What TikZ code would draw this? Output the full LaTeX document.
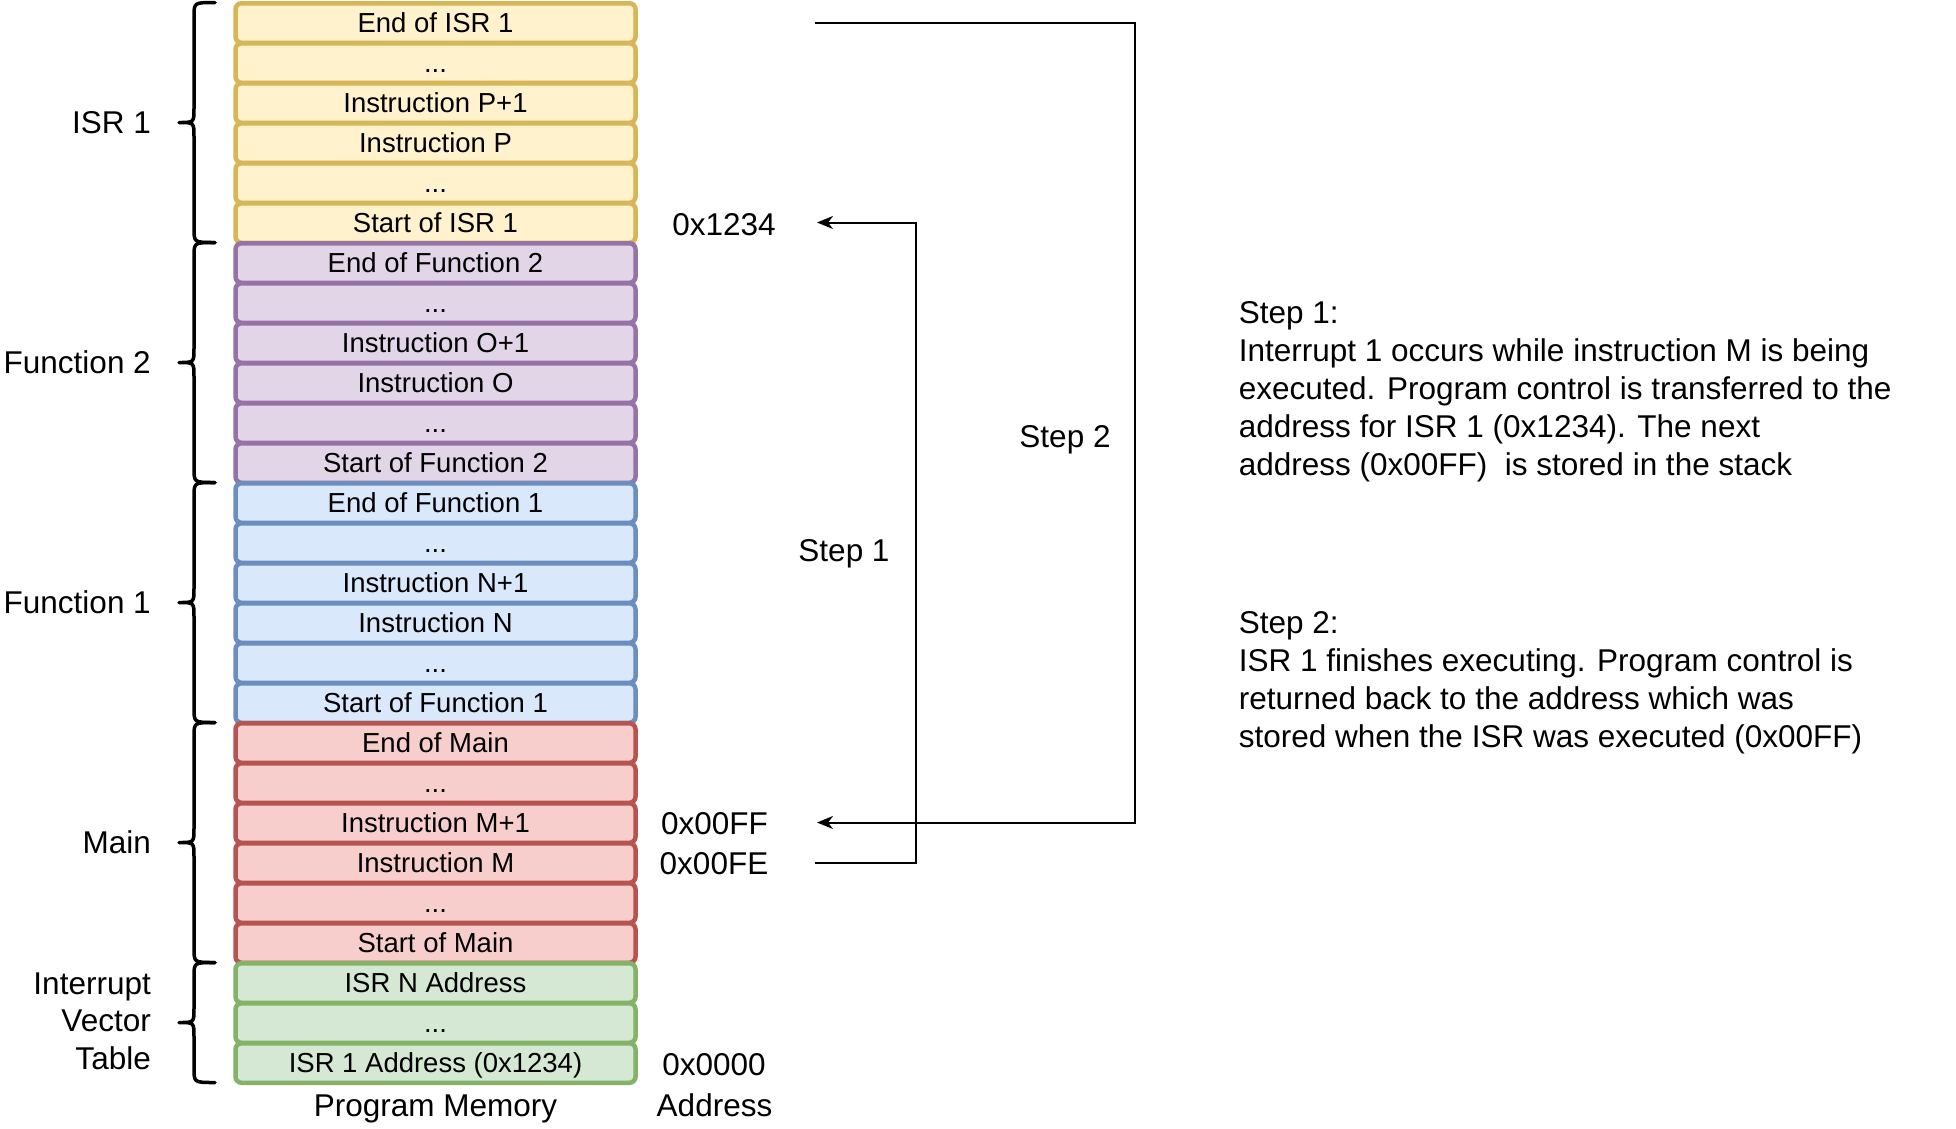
\documentclass[tikz,border=0pt]{standalone}
\usepackage{fontspec}
\setmainfont{Liberation Sans}
\usetikzlibrary{arrows.meta}
\definecolor{yfill}{HTML}{FFF2CC}\definecolor{ydraw}{HTML}{D6B656}
\definecolor{pfill}{HTML}{E1D5E7}\definecolor{pdraw}{HTML}{9673A6}
\definecolor{bfill}{HTML}{DAE8FC}\definecolor{bdraw}{HTML}{6C8EBF}
\definecolor{rfill}{HTML}{F8CECC}\definecolor{rdraw}{HTML}{B85450}
\definecolor{gfill}{HTML}{D5E8D4}\definecolor{gdraw}{HTML}{82B366}
\begin{document}
\begin{tikzpicture}[x=1pt,y=-1pt,
  cell/.style={rectangle, rounded corners=6pt, line width=4.5pt, minimum width=400pt, minimum height=39.5pt,
    inner sep=0pt, font=\fontsize{27.5}{33}\selectfont, text height=19.7pt, text depth=0pt},
  ycell/.style={cell, fill=yfill, draw=ydraw},
  pcell/.style={cell, fill=pfill, draw=pdraw},
  bcell/.style={cell, fill=bfill, draw=bdraw},
  rcell/.style={cell, fill=rfill, draw=rdraw},
  gcell/.style={cell, fill=gfill, draw=gdraw},
  lbl/.style={inner sep=0pt, font=\fontsize{31.5}{37.5}\selectfont, text height=22.6pt, text depth=0pt},
  grp/.style={inner sep=0pt, anchor=east, align=right, font=\fontsize{31.5}{37.5}\selectfont},
  note/.style={inner sep=0pt, anchor=north west, align=left, font=\fontsize{31.5}{38}\selectfont},
  bracestyle/.style={line width=3.5pt, line cap=round, line join=round},
  conn/.style={line width=2pt, -{Stealth[length=16pt,width=13pt,inset=5pt]}},
  plain/.style={line width=2pt}
]
\useasboundingbox[fill=white] (0,0) rectangle (1956,1128);

% memory cells
\node[ycell] (r0)  at (435.5,23)  {End of ISR 1};
\node[ycell] (r1)  at (435.5,63)  {...};
\node[ycell] (r2)  at (435.5,103) {Instruction P+1};
\node[ycell] (r3)  at (435.5,143) {Instruction P};
\node[ycell] (r4)  at (435.5,183) {...};
\node[ycell] (r5)  at (435.5,223) {Start of ISR 1};
\node[pcell] (r6)  at (435.5,263) {End of Function 2};
\node[pcell] (r7)  at (435.5,303) {...};
\node[pcell] (r8)  at (435.5,343) {Instruction O+1};
\node[pcell] (r9)  at (435.5,383) {Instruction O};
\node[pcell] (r10) at (435.5,423) {...};
\node[pcell] (r11) at (435.5,463) {Start of Function 2};
\node[bcell] (r12) at (435.5,503) {End of Function 1};
\node[bcell] (r13) at (435.5,543) {...};
\node[bcell] (r14) at (435.5,583) {Instruction N+1};
\node[bcell] (r15) at (435.5,623) {Instruction N};
\node[bcell] (r16) at (435.5,663) {...};
\node[bcell] (r17) at (435.5,703) {Start of Function 1};
\node[rcell] (r18) at (435.5,743) {End of Main};
\node[rcell] (r19) at (435.5,783) {...};
\node[rcell] (r20) at (435.5,823) {Instruction M+1};
\node[rcell] (r21) at (435.5,863) {Instruction M};
\node[rcell] (r22) at (435.5,903) {...};
\node[rcell] (r23) at (435.5,943) {Start of Main};
\node[gcell] (r24) at (435.5,983) {ISR N Address};
\node[gcell] (r25) at (435.5,1023) {...};
\node[gcell] (r26) at (435.5,1063) {ISR 1 Address (0x1234)};

% braces
\foreach \t/\b in {2.5/242.5, 242.5/482.5, 482.5/722.5, 722.5/962.5, 962.5/1082.5} {
  \pgfmathsetmacro\m{(\t+\b)/2}
  \draw[bracestyle] (215,\t) .. controls (194,\t) .. (194,{\t+14}) -- (194,{\m-14})
     .. controls (194,\m) .. (179,\m) .. controls (194,\m) .. (194,{\m+14})
     -- (194,{\b-14}) .. controls (194,\b) .. (215,\b);
}

% group labels
\node[grp] (gisr) at (151,122.5) {ISR 1};
\node[grp] (gf2) at (151,362.5) {Function 2};
\node[grp] (gf1) at (151,602.5) {Function 1};
\node[grp] (gmain) at (151,842.5) {Main};
\node[grp] (givt) at (151,1021) {Interrupt\\Vector\\Table};

% addresses
\node[lbl] (a1234) at (724,224.5) {0x1234};
\node[lbl] (a00ff) at (714.5,823) {0x00FF};
\node[lbl] (a00fe) at (714,863) {0x00FE};
\node[lbl] (a0000) at (714,1064) {0x0000};
\node[lbl] (aaddr) at (714.5,1105) {Address};
\node[lbl] (pmem) at (435.5,1105) {Program Memory};

% steps
\node[lbl] (st1) at (844,550) {Step 1};
\node[lbl] (st2) at (1065,436.6) {Step 2};

\coordinate (s1a) at (814.5,862.5);
\coordinate (s1c) at (915.6,222.5);
\coordinate (s1b) at (817,222.5);
\draw[conn] (s1a) -| (s1c) -- (s1b);

\coordinate (s2a) at (814.5,22.5);
\coordinate (s2c) at (1135,822.5);
\coordinate (s2b) at (817,822.5);
\draw[conn] (s2a) -| (s2c) -- (s2b);

% notes
\node[note] (n1) at (1238.7,301.3) {Step 1:\\Interrupt 1 occurs while instruction M is being\\executed. Program control is transferred to the\\address for ISR 1 (0x1234). The next\\address (0x00FF)\ \ is stored in the stack};
\node[note] (n2) at (1238.7,610.8) {Step 2:\\ISR 1 finishes executing. Program control is\\returned back to the address which was\\stored when the ISR was executed (0x00FF)};
\end{tikzpicture}
\end{document}
